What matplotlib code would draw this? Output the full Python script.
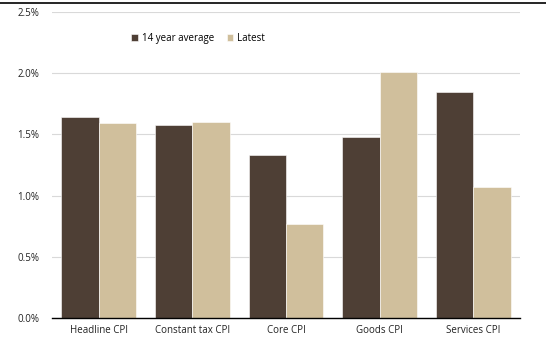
import numpy as np
import matplotlib.pyplot as plt
from matplotlib.lines import Line2D

plt.rcParams['font.family'] = ['Open Sans', 'DejaVu Sans']

categories = ['Headline CPI', 'Constant tax CPI', 'Core CPI', 'Goods CPI', 'Services CPI']
avg_14yr = [1.64, 1.58, 1.33, 1.48, 1.85]
latest = [1.59, 1.60, 0.77, 2.01, 1.07]
yticks = [0.0, 0.5, 1.0, 1.5, 2.0, 2.5]

dark = '#4e3f35'
light = '#d0bf9c'

fig = plt.figure(figsize=(5.46, 3.40), dpi=100)
ax = fig.add_axes([52 / 546, 22 / 340, 468 / 546, 306 / 340])

x = np.arange(len(categories))
w = 0.4
ax.bar(x - w / 2, avg_14yr, w, color=dark, edgecolor='white', linewidth=0.4,
       label='14 year average', zorder=3)
ax.bar(x + w / 2, latest, w, color=light, edgecolor='white', linewidth=0.4,
       label='Latest', zorder=3)

ax.set_xlim(-0.5, len(categories) - 0.5)
ax.set_ylim(0, 2.5)
ax.set_yticks(yticks)
ax.set_yticklabels(['%.1f%%' % v for v in yticks])
ax.set_xticks(x)
ax.set_xticklabels(categories)
ax.yaxis.grid(True, color='#d9d9d9', linewidth=0.8, zorder=0)
ax.tick_params(axis='both', length=0, labelsize=7, colors='#222222')
ax.tick_params(axis='y', pad=9)
ax.tick_params(axis='x', pad=5)
for s in ['top', 'right', 'left']:
    ax.spines[s].set_visible(False)
ax.spines['bottom'].set_color('black')
ax.spines['bottom'].set_linewidth(1.0)
ax.spines['bottom'].set_zorder(4)

ax.legend(loc='upper left', bbox_to_anchor=(0.15, 0.96), ncol=2, frameon=False,
          fontsize=7, handlelength=0.7, handleheight=0.7, handletextpad=0.4,
          columnspacing=1.3)

# rule across the top of the figure
fig.add_artist(Line2D([0, 1], [1 - 3 / 340, 1 - 3 / 340], color='black', linewidth=1.2,
                      transform=fig.transFigure))

fig.savefig('out.png', dpi=100)
